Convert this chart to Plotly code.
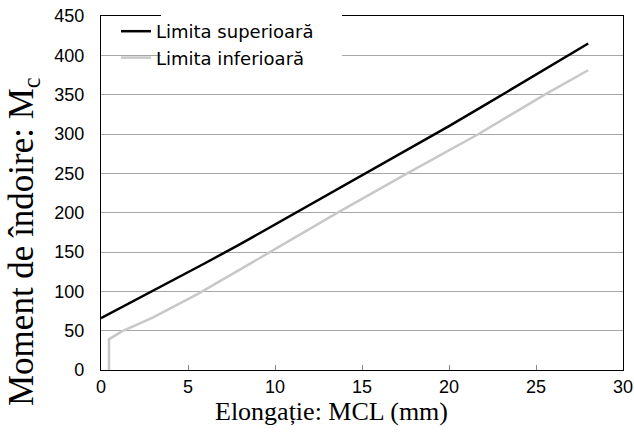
import plotly.graph_objects as go

# Data
upper_x = [0, 2, 4, 6, 8, 10, 12, 14, 16, 18, 20, 22, 24, 26, 28]
upper_y = [66, 89, 112, 136, 160, 185, 210, 234, 259, 284, 310, 336, 362, 389, 415]
lower_x = [0.46, 0.46, 1.2, 3, 5.6, 9.7, 13.6, 17.6, 21.7, 25.5, 28]
lower_y = [0, 39, 49, 67, 97, 150, 200, 250, 300, 350, 381]
series_names = ["Limita superioară", "Limita inferioară"]
x_ticks = [0, 5, 10, 15, 20, 25, 30]
y_ticks = [0, 50, 100, 150, 200, 250, 300, 350, 400, 450]

W, H = 634, 432
L, R, T, B = 101, 11, 16, 62
pw, ph = W - L - R, H - T - B

fig = go.Figure()
fig.add_trace(go.Scatter(x=upper_x, y=upper_y, mode="lines", name=series_names[0],
                         line=dict(color="#000000", width=2.5)))
fig.add_trace(go.Scatter(x=lower_x, y=lower_y, mode="lines", name=series_names[1],
                         line=dict(color="#c8c8c8", width=2.5)))

def px_x(p):
    return (p - L) / pw

def px_y(p):
    return (H - B - p) / ph

fig.update_layout(
    width=W, height=H,
    margin=dict(l=L, r=R, t=T, b=B, autoexpand=False),
    paper_bgcolor="white", plot_bgcolor="white",
    showlegend=True,
    legend=dict(x=px_x(116), y=px_y(13), xanchor="left", yanchor="top",
                bgcolor="rgba(0,0,0,0)", borderwidth=0,
                font=dict(family="DejaVu Sans", size=18, color="#000"),
                tracegroupgap=0, itemwidth=30),
    xaxis=dict(range=[0, 30], tickvals=x_ticks, ticks="inside", ticklen=5,
               tickcolor="#888", showgrid=False, zeroline=False, automargin=False,
               showline=True, linecolor="#000", linewidth=1.2, mirror=True,
               tickfont=dict(family="Liberation Sans", size=18, color="#000"),
               ticklabelstandoff=0),
    yaxis=dict(range=[0, 450], tickvals=y_ticks, ticks="", showgrid=True,
               gridcolor="#a6a6a6", gridwidth=1, zeroline=False, automargin=False,
               showline=True, linecolor="#000", linewidth=1.2, mirror=True,
               tickfont=dict(family="Liberation Sans", size=18, color="#000"),
               ticklabelstandoff=12),
)

# white box behind the legend text (covers grid and top border)
fig.add_shape(type="rect", xref="paper", yref="paper",
              x0=px_x(161), x1=px_x(342), y0=px_y(66), y1=px_y(8),
              fillcolor="white", line=dict(width=0), layer="above")

fig.add_annotation(text="Elongație: MCL (mm)", xref="paper", yref="paper",
                   x=px_x(331), y=px_y(411), xanchor="center", yanchor="middle",
                   showarrow=False,
                   font=dict(family="Liberation Serif", size=26, color="#000"))
fig.add_annotation(text="Moment de îndoire: M<sub>c</sub>", xref="paper", yref="paper",
                   x=px_x(23), y=px_y(242), xanchor="center", yanchor="middle",
                   textangle=-90, showarrow=False,
                   font=dict(family="Liberation Serif", size=35, color="#000"))

fig.write_html("out.html")
